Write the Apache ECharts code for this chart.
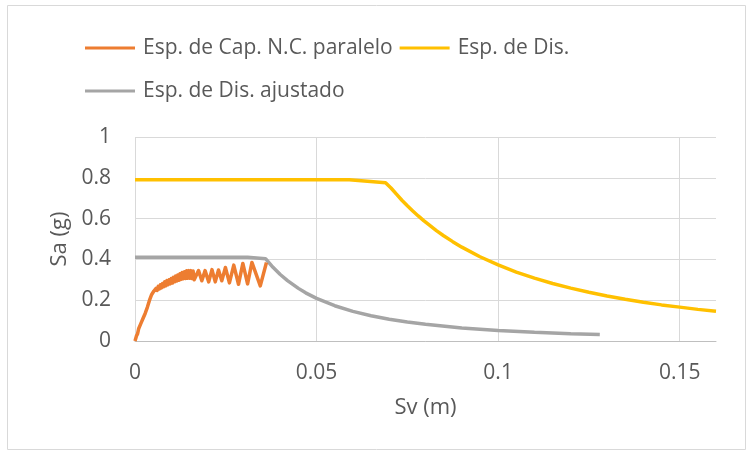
<!DOCTYPE html>
<html>
<head>
<meta charset="utf-8">
<script src="https://cdn.jsdelivr.net/npm/echarts@6/dist/echarts.min.js"></script>
<style>
html,body{margin:0;padding:0;background:#fff;}
#chart{width:753px;height:457px;}
</style>
</head>
<body>
<div id="chart"></div>
<script>
var seriesNames = ['Esp. de Cap. N.C. paralelo', 'Esp. de Dis.', 'Esp. de Dis. ajustado'];
var xTicks = [0, 0.05, 0.1, 0.15];
var yTicks = [0, 0.2, 0.4, 0.6, 0.8, 1];

var capX = [0, 0.0004, 0.0007, 0.001, 0.0013, 0.0016, 0.0019, 0.0022, 0.0025, 0.0028, 0.0031, 0.0034, 0.0037,
  0.004, 0.0043, 0.0046, 0.0049, 0.0052, 0.0055, 0.0058,
  0.0061, 0.0064, 0.0067, 0.0070, 0.0073, 0.0076, 0.0079, 0.0082, 0.0085, 0.0088, 0.0091, 0.0094, 0.0097,
  0.0100, 0.0103, 0.0106, 0.0109, 0.0112, 0.0115, 0.0118, 0.0121, 0.0124, 0.0127, 0.0130, 0.0133, 0.0136,
  0.0139, 0.0142, 0.0145, 0.0148, 0.0151, 0.0154, 0.0157, 0.0160, 0.0163,
  0.0175, 0.0184, 0.0193, 0.0203, 0.0212, 0.0221, 0.0230, 0.0239, 0.0249, 0.0260, 0.0272, 0.0285, 0.0297,
  0.0310, 0.0322, 0.0345, 0.0362];
var capY = [0, 0.025, 0.035, 0.06, 0.055, 0.085, 0.08, 0.11, 0.105, 0.135, 0.135, 0.165, 0.17,
  0.2, 0.205, 0.228, 0.225, 0.245, 0.24, 0.258,
  0.248, 0.268, 0.255, 0.276, 0.260, 0.282, 0.266, 0.290, 0.270, 0.296, 0.276, 0.300, 0.280,
  0.306, 0.284, 0.312, 0.290, 0.318, 0.294, 0.324, 0.298, 0.330, 0.302, 0.336, 0.305, 0.340,
  0.306, 0.344, 0.308, 0.345, 0.308, 0.345, 0.306, 0.343, 0.300,
  0.345, 0.295, 0.345, 0.290, 0.350, 0.290, 0.348, 0.295, 0.360, 0.285, 0.372, 0.278, 0.380,
  0.280, 0.385, 0.270, 0.385];

var disX = [0, 0.059, 0.069, 0.0705, 0.072, 0.0735, 0.075, 0.0765, 0.078, 0.0795, 0.081, 0.083, 0.085, 0.0875,
  0.09, 0.095, 0.1, 0.105, 0.11, 0.115, 0.12, 0.125, 0.13, 0.135, 0.14, 0.145, 0.15, 0.155, 0.16];
var disY = [0.79, 0.79, 0.776, 0.750, 0.720, 0.690, 0.663, 0.637, 0.613, 0.590, 0.569, 0.541, 0.516, 0.487,
  0.460, 0.413, 0.373, 0.338, 0.308, 0.282, 0.259, 0.239, 0.221, 0.205, 0.190, 0.177, 0.166, 0.155, 0.146];

var adjX = [0, 0.031, 0.036, 0.038, 0.04, 0.042, 0.045, 0.047, 0.05, 0.055, 0.06, 0.065, 0.07, 0.075, 0.08,
  0.09, 0.1, 0.11, 0.12, 0.128];
var adjY = [0.41, 0.41, 0.403, 0.361, 0.326, 0.296, 0.258, 0.236, 0.209, 0.173, 0.145, 0.124, 0.107, 0.093, 0.082,
  0.064, 0.052, 0.043, 0.036, 0.032];

function pairs(xs, ys) { return xs.map(function (x, i) { return [x, ys[i]]; }); }

var colors = ['#ED7D31', '#FFC000', '#A5A5A5'];
var txt = '#595959';
var font = '"Open Sans", sans-serif';

var chart = echarts.init(document.getElementById('chart'), null, {renderer: 'canvas'});
var legendCommon = {
  orient: 'horizontal',
  icon: 'rect',
  itemWidth: 50,
  itemHeight: 3,
  itemGap: 7,
  textStyle: {color: txt, fontSize: 21, fontFamily: font, lineHeight: 24, padding: [0, 0, 0, 3]}
};
chart.setOption({
  animation: false,
  color: colors,
  graphic: [{
    type: 'rect', shape: {x: 7.5, y: 5.5, width: 738, height: 444},
    style: {fill: 'none', stroke: '#D9D9D9', lineWidth: 1}, silent: true
  }],
  legend: [
    Object.assign({left: 80, top: 31, data: [seriesNames[0], seriesNames[1]]}, legendCommon),
    Object.assign({left: 80, top: 74, data: [seriesNames[2]]}, legendCommon)
  ],
  grid: {left: 135, right: 37, top: 137, bottom: 116, containLabel: false},
  xAxis: {
    type: 'value', min: xTicks[0], max: 0.16, interval: xTicks[1] - xTicks[0],
    name: 'Sv (m)', nameLocation: 'middle', nameGap: 56,
    nameTextStyle: {color: txt, fontSize: 22, fontFamily: font},
    axisLine: {show: true, lineStyle: {color: '#BFBFBF', width: 1}},
    axisTick: {show: false},
    axisLabel: {color: txt, fontSize: 21, fontFamily: font, margin: 22, showMaxLabel: false,
      formatter: function (v) { return xTicks.indexOf(v) >= 0 ? String(v) : ''; }},
    splitLine: {show: true, showMaxLine: false, lineStyle: {color: '#D9D9D9', width: 1}}
  },
  yAxis: {
    type: 'value', min: yTicks[0], max: yTicks[yTicks.length - 1], interval: yTicks[1] - yTicks[0],
    name: 'Sa (g)', nameLocation: 'middle', nameGap: 62,
    nameTextStyle: {color: txt, fontSize: 22, fontFamily: font},
    axisLine: {show: false},
    axisTick: {show: false},
    axisLabel: {color: txt, fontSize: 21, fontFamily: font, margin: 24,
      formatter: function (v) { return String(Math.round(v * 10) / 10); }},
    splitLine: {show: true, lineStyle: {color: '#D9D9D9', width: 1}}
  },
  series: [
    {name: seriesNames[0], type: 'line', data: pairs(capX, capY), showSymbol: false, symbol: 'none',
      lineStyle: {width: 3.5, color: colors[0], join: 'round'}, z: 4},
    {name: seriesNames[1], type: 'line', data: pairs(disX, disY), showSymbol: false, symbol: 'none',
      lineStyle: {width: 3.5, color: colors[1]}, z: 3},
    {name: seriesNames[2], type: 'line', data: pairs(adjX, adjY), showSymbol: false, symbol: 'none',
      lineStyle: {width: 3.5, color: colors[2]}, z: 2}
  ]
});
</script>
</body>
</html>
